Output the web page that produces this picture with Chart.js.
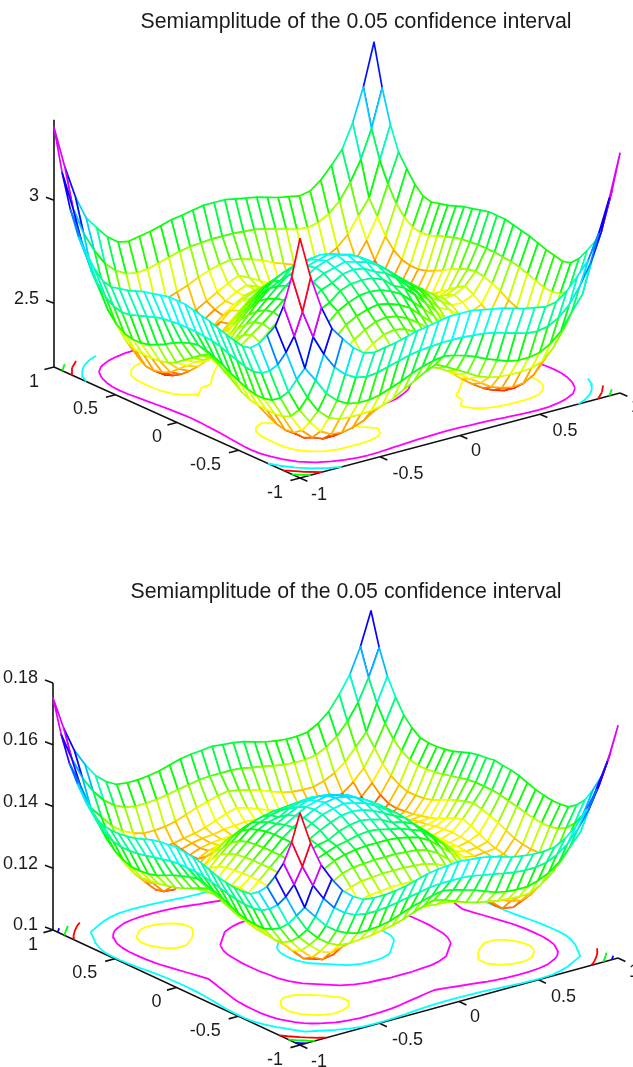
<!DOCTYPE html>
<html><head><meta charset="utf-8">
<script src="https://cdn.jsdelivr.net/npm/chart.js@4/dist/chart.umd.min.js"></script>
<style>
html,body{margin:0;padding:0;background:#fff;overflow:hidden;width:633px;height:1067px}
canvas{position:absolute;left:0}
</style></head><body>
<canvas id="c1" width="712" height="533" style="top:0"></canvas>
<canvas id="c2" width="692" height="534" style="top:533px"></canvas>
<script>
const titleText = "Semiamplitude of the 0.05 confidence interval";
const floorTicks = [-1, -0.5, 0, 0.5, 1];
const floorLabels = ["-1", "-0.5", "0", "0.5", "1"];
const zTicks1 = [2.5, 3];
const zLabels1 = ["2.5", "3"];
const zTicks2 = [0.1, 0.12, 0.14, 0.16, 0.18];
const zLabels2 = ["0.1", "0.12", "0.14", "0.16", "0.18"];
const levels1 = [2.326, 2.597, 2.816, 2.981, 3.150];
const levels2 = [0.1207, 0.1292, 0.1402, 0.1535, 0.1612, 0.1690];
const levelColors = ["#ffff00", "#ff00ff", "#00ffff", "#ff0000", "#00ff00", "#0000ff"];

// Surface: rows from the corner of the grid to its middle, upper triangle (surface is symmetric)
const surface1 = [
[3.354,3.150,2.990,2.874,2.811,2.753,2.714,2.704,2.714,2.724,2.738,2.753,2.762,2.772,2.782,2.782],
[2.966,2.830,2.733,2.656,2.607,2.578,2.568,2.573,2.588,2.602,2.617,2.627,2.631,2.636,2.636],
[2.660,2.588,2.510,2.462,2.433,2.423,2.423,2.433,2.452,2.471,2.496,2.515,2.530,2.539],
[2.486,2.408,2.360,2.340,2.336,2.336,2.340,2.350,2.369,2.399,2.428,2.457,2.481],
[2.336,2.277,2.248,2.243,2.253,2.272,2.306,2.340,2.375,2.403,2.433,2.452],
[2.229,2.209,2.209,2.224,2.248,2.282,2.321,2.365,2.403,2.433,2.447],
[2.200,2.209,2.234,2.272,2.316,2.365,2.408,2.442,2.466,2.481],
[2.219,2.248,2.287,2.326,2.374,2.423,2.466,2.500,2.520],
[2.287,2.331,2.379,2.433,2.481,2.520,2.549,2.559],
[2.394,2.442,2.491,2.534,2.568,2.593,2.602],
[2.491,2.539,2.588,2.617,2.636,2.646],
[2.588,2.636,2.665,2.685,2.690],
[2.660,2.704,2.724,2.728],
[2.724,2.753,2.762],
[2.767,2.782],
[2.796]];
const surface2 = [
[.1752,.1645,.1564,.1509,.1463,.1434,.1415,.1411,.1411,.1415,.1421,.1431,.1441,.1447,.1450,.1454],
[.1557,.1486,.1434,.1395,.1369,.1353,.1347,.1347,.1350,.1356,.1363,.1369,.1376,.1379,.1379],
[.1402,.1363,.1324,.1298,.1282,.1272,.1272,.1275,.1282,.1295,.1308,.1318,.1327,.1334],
[.1308,.1272,.1246,.1230,.1227,.1230,.1233,.1240,.1246,.1256,.1269,.1282,.1292],
[.1237,.1207,.1194,.1201,.1214,.1227,.1237,.1243,.1246,.1253,.1256,.1259],
[.1175,.1159,.1165,.1194,.1220,.1233,.1240,.1243,.1246,.1246,.1246],
[.1149,.1162,.1194,.1220,.1237,.1246,.1253,.1259,.1262,.1266],
[.1181,.1214,.1240,.1259,.1275,.1285,.1288,.1292,.1292],
[.1233,.1266,.1292,.1308,.1318,.1321,.1324,.1324],
[.1292,.1321,.1340,.1350,.1353,.1356,.1356],
[.1350,.1369,.1379,.1386,.1389,.1389],
[.1382,.1395,.1402,.1411,.1415],
[.1402,.1421,.1431,.1437],
[.1437,.1450,.1454],
[.1460,.1467],
[.1473]];

function expand(tri){
  const q=[];for(let r=0;r<16;r++){q.push([]);}
  tri.forEach((row,r)=>row.forEach((v,k)=>{q[r][r+k]=v;q[r+k][r]=v;}));
  const Z=[];
  for(let i=0;i<=30;i++){const row=[];for(let j=0;j<=30;j++){row.push(q[Math.min(i,30-i)][Math.min(j,30-j)]);}Z.push(row);}
  return Z;
}
function hsvColor(v,lo,hi){
  let idx=Math.floor((v-lo)/(hi-lo)*64);if(idx>63)idx=63;if(idx<0)idx=0;
  return `hsl(${idx/64*360},100%,50%)`;
}
function contourData(Z,level,proj){
  const out=[];
  const cross=(i0,j0,i1,j1)=>{const a=Z[i0][j0],b=Z[i1][j1];
    if((a<level)===(b<level))return null;const t=(level-a)/(b-a);return [i0+(i1-i0)*t,j0+(j1-j0)*t];};
  for(let i=0;i<30;i++)for(let j=0;j<30;j++){
    const e=[cross(i,j,i+1,j),cross(i+1,j,i+1,j+1),cross(i,j+1,i+1,j+1),cross(i,j,i,j+1)].filter(Boolean);
    for(let k=0;k+1<e.length;k+=2){
      out.push(proj(e[k][0]/30,e[k][1]/30,null),proj(e[k+1][0]/30,e[k+1][1]/30,null),{x:NaN,y:NaN});
    }
  }
  return out;
}
const leftOff=[[-25,15],[-33,15],[-20,15],[-30,14],[-20,15]];   // for -1..1 on the left floor axis
const rightOff=[[19,17],[28,17],[16,16],[25,17],[16,14]];        // for -1..1 on the right floor axis

function build(cfg){
  const Z=expand(cfg.surface);
  const all=Z.flat();const lo=Math.min(...all),hi=Math.max(...all);
  const proj=(a,b,z)=>({x:cfg.front[0]+cfg.a[0]*a+cfg.b[0]*b,
    y:cfg.front[1]+cfg.a[1]*a+cfg.b[1]*b-(z===null?0:(z-cfg.zFloor)*cfg.zScale)});
  const ds=[];
  const faces=[];
  for(let i=0;i<30;i++)for(let j=0;j<30;j++)faces.push([i,j]);
  faces.sort((p,q)=>(p[0]+p[1])-(q[0]+q[1]));
  for(const [i,j] of faces){
    const data=[[i,j],[i+1,j],[i+1,j+1],[i,j+1],[i,j]].map(([m,n])=>proj(m/30,n/30,Z[m][n]));
    ds.push({data,showLine:true,fill:'shape',backgroundColor:'#ffffff',borderColor:hsvColor(Z[i][j],lo,hi),
      borderWidth:1.7,pointRadius:0,tension:0,borderJoinStyle:'round'});
  }
  cfg.levels.forEach((lv,k)=>ds.push({data:contourData(Z,lv,proj),showLine:true,fill:false,borderColor:levelColors[k],
    borderWidth:1.8,pointRadius:0,tension:0,spanGaps:false}));
  const ink='#111111';
  const axisDs=(data)=>ds.push({data,showLine:true,fill:false,borderColor:ink,borderWidth:1.6,pointRadius:0,tension:0,spanGaps:false});
  axisDs([proj(0,1,null),proj(0,0,null),proj(1,0,null)]);
  axisDs([proj(0,1,null),proj(0,1,cfg.zTop)]);
  const tick=[];
  floorTicks.forEach(v=>{const t=(v+1)/2;
    tick.push(proj(0,t,null),proj(-0.03,t,null),{x:NaN,y:NaN});
    tick.push(proj(t,0,null),proj(t,-0.03,null),{x:NaN,y:NaN});});
  cfg.zTicks.forEach(v=>{const p=proj(0,1,v);tick.push(p,{x:p.x-8,y:p.y-3},{x:NaN,y:NaN});});
  axisDs(tick);

  const labels={id:'labels',afterDraw(chart){
    const c=chart.ctx,sx=chart.scales.x,sy=chart.scales.y;
    c.save();c.font='18px "Liberation Sans"';c.fillStyle='#1c1c1c';c.textBaseline='middle';
    floorTicks.forEach((v,k)=>{const t=(v+1)/2;
      let p=proj(0,t,null);c.textAlign='center';
      c.fillText(floorLabels[k],sx.getPixelForValue(p.x)+leftOff[k][0],sy.getPixelForValue(p.y)+leftOff[k][1]);
      p=proj(t,0,null);
      c.fillText(floorLabels[k],sx.getPixelForValue(p.x)+rightOff[k][0],sy.getPixelForValue(p.y)+rightOff[k][1]);
    });
    c.textAlign='right';
    cfg.zTicks.forEach((v,k)=>{const p=proj(0,1,v);
      c.fillText(cfg.zLabels[k],sx.getPixelForValue(p.x)-15,sy.getPixelForValue(p.y)-4.5);});
    c.restore();
  }};
  new Chart(document.getElementById(cfg.id),{
    type:'scatter',
    data:{datasets:ds},
    plugins:[labels],
    options:{responsive:false,animation:false,events:[],
      layout:{padding:0},
      clip:false,
      plugins:{legend:{display:false},tooltip:{enabled:false},
        title:{display:true,text:titleText,color:'#1c1c1c',font:{family:'"Liberation Sans"',size:21.3,weight:'normal',lineHeight:1.2},
          padding:{top:cfg.titlePad,bottom:0}}},
      scales:{
        x:{type:'linear',display:false,min:0,max:cfg.width},
        y:{type:'linear',display:false,reverse:true,min:cfg.titlePad+21.3*1.2,max:cfg.height}
      }}
  });
}
build({id:'c1',width:712,height:533,titlePad:9,surface:surface1,levels:levels1,front:[300,478],a:[320,-85],b:[-246,-111],
  zFloor:2.19,zScale:206,zTop:3.39,zTicks:zTicks1,zLabels:zLabels1});
build({id:'c2',width:692,height:534,titlePad:46,surface:surface2,levels:levels2,front:[300,512],a:[318,-87],b:[-247,-115],
  zFloor:0.1,zScale:3088,zTop:0.18,zTicks:zTicks2,zLabels:zLabels2});
</script>
</body></html>
